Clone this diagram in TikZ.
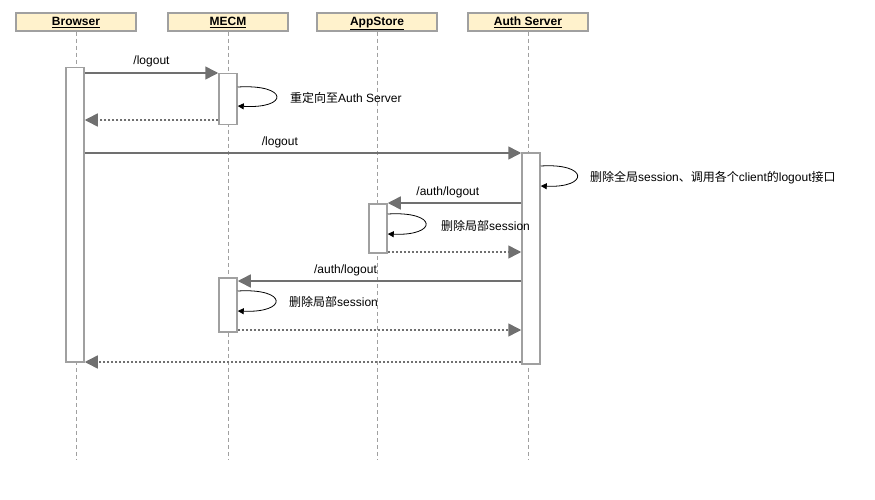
\documentclass[tikz,border=0pt]{standalone}
\usepackage{fontspec}
\setmainfont{Liberation Sans}
\newfontfamily\cjk{Noto Sans CJK SC}
\usetikzlibrary{arrows.meta}
\definecolor{hdrfill}{HTML}{FFF2CC}
\definecolor{hdrline}{HTML}{A0A0A0}
\definecolor{msgline}{HTML}{707070}
\definecolor{lifeline}{HTML}{A0A0A0}
\tikzset{
  hdr/.style={draw=hdrline, line width=1.5pt, fill=hdrfill, minimum width=120pt, minimum height=18pt, inner sep=0pt, text height=9.5pt, text depth=2.5pt, font=\fontsize{12}{14}\selectfont\bfseries},
  actbox/.style={draw=hdrline, line width=1.5pt, fill=white, inner sep=0pt, minimum width=18pt},
  life/.style={draw=lifeline, line width=1pt, dash pattern=on 4pt off 3pt},
  msg/.style={draw=msgline, line width=1.5pt, -{Triangle[length=13pt,width=13pt]}},
  ret/.style={draw=msgline, line width=1.5pt, dash pattern=on 2pt off 2pt, -{Triangle[length=13pt,width=13pt]}},
  selfc/.style={draw=black, line width=0.8pt, -{Triangle[length=6pt,width=6pt]}},
  lbl/.style={font=\fontsize{12}{14}\selectfont, inner sep=0pt},
  mlbl/.style={lbl, anchor=base, yshift=8pt},
}
\begin{document}
\begin{tikzpicture}[x=1pt,y=1pt]
\useasboundingbox (0,0) rectangle (875,-500);
% headers
\node[hdr] (hB) at (76,-22) {\underline{Browser}};
\node[hdr] (hM) at (228,-22) {\underline{MECM}};
\node[hdr] (hA) at (377,-22) {\underline{AppStore}};
\node[hdr] (hS) at (528,-22) {\underline{Auth Server}};
% lifeline ends
\coordinate (eB) at (76,-460);
\coordinate (eM) at (228,-460);
\coordinate (eA) at (377,-460);
\coordinate (eS) at (528,-460);
\draw[life] (hB.south) -- (eB);
\draw[life] (hM.south) -- (eM);
\draw[life] (hA.south) -- (eA);
\draw[life] (hS.south) -- (eS);
% activations
\node[actbox, minimum height=294pt, anchor=north] (aB) at (75,-67) {};
\node[actbox, minimum height=51pt, anchor=north] (aM1) at (228,-73) {};
\node[actbox, minimum height=211pt, anchor=north] (aS) at (531,-152) {};
\node[actbox, minimum height=49pt, anchor=north] (aA) at (378,-203) {};
\node[actbox, minimum height=54pt, anchor=north] (aM2) at (228,-277) {};
% messages
\draw[msg] (aB.east |- 0,-73) -- (aM1.west |- 0,-73) node[mlbl, pos=0.5] {/logout};
\draw[selfc] (aM1.east |- 0,-87) .. controls (289,-84) and (289,-109) .. (aM1.east |- 0,-106);
\node[lbl, anchor=west] (t1) at (290,-98) {{\cjk 重定向至}Auth Server};
\draw[ret] (aM1.west |- 0,-120) -- (aB.east |- 0,-120);
\draw[msg] (aB.east |- 0,-153) -- (aS.west |- 0,-153) node[mlbl, pos=0.447, yshift=-1pt] {/logout};
\draw[selfc] (aS.east |- 0,-166) .. controls (589,-163) and (589,-188) .. (aS.east |- 0,-186);
\node[lbl, anchor=west] (t2) at (590,-178) {{\cjk 删除全局}session{\cjk 、调用各个}client{\cjk 的}logout{\cjk 接口}};
\draw[msg] (aS.west |- 0,-203) -- (aA.east |- 0,-203) node[mlbl, pos=0.55] {/auth/logout};
\draw[selfc] (aA.east |- 0,-214) .. controls (438,-211) and (438,-236) .. (aA.east |- 0,-234);
\node[lbl, anchor=west] (t3) at (441,-226) {{\cjk 删除局部}session};
\draw[ret] (aA.east |- 0,-252) -- (aS.west |- 0,-252);
\draw[msg] (aS.west |- 0,-281) -- (aM2.east |- 0,-281) node[mlbl, pos=0.62] {/auth/logout};
\draw[selfc] (aM2.east |- 0,-291) .. controls (288,-288) and (288,-313) .. (aM2.east |- 0,-311);
\node[lbl, anchor=west] (t4) at (289,-302) {{\cjk 删除局部}session};
\draw[ret] (aM2.east |- 0,-330) -- (aS.west |- 0,-330);
\draw[ret] (aS.west |- 0,-362) -- (aB.east |- 0,-362);
\end{tikzpicture}
\end{document}
